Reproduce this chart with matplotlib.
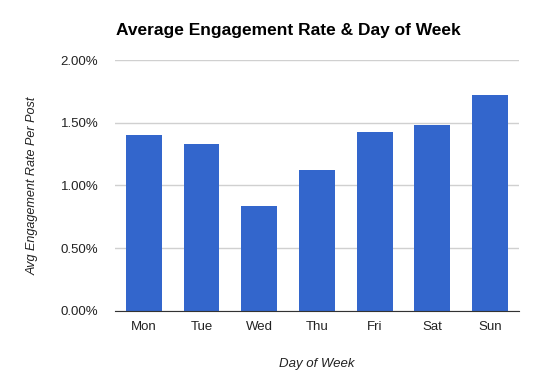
import matplotlib
matplotlib.use("Agg")
import matplotlib.pyplot as plt
from matplotlib.ticker import FuncFormatter

plt.rcParams['font.family'] = ['Liberation Sans', 'DejaVu Sans']

# DATA #
days = ['Mon', 'Tue', 'Wed', 'Thu', 'Fri', 'Sat', 'Sun']
engagement = [1.40, 1.33, 0.84, 1.12, 1.43, 1.48, 1.72]  # percent
yticks = [0.0, 0.5, 1.0, 1.5, 2.0]

# PLOT #
fig = plt.figure(figsize=(5.4, 3.8), dpi=100)
ax = fig.add_axes([0.213, 0.182, 0.748, 0.660])

ax.bar(days, engagement, width=0.62, color='#3366cc', zorder=3)

ax.set_ylim(0, 2.0)
ax.set_xlim(-0.5, len(days) - 0.5)
ax.set_yticks(yticks)
ax.yaxis.set_major_formatter(FuncFormatter(lambda v, p: '%.2f%%' % v))
ax.grid(axis='y', color='#d0d0d0', linewidth=1, zorder=0)

for side in ['top', 'right', 'left']:
    ax.spines[side].set_visible(False)
ax.spines['bottom'].set_color('#333333')
ax.spines['bottom'].set_zorder(4)

ax.tick_params(axis='both', length=0, labelsize=9.5, colors='#222222')
ax.tick_params(axis='y', pad=12)
ax.tick_params(axis='x', pad=7)

ax.set_xlabel('Day of Week', fontsize=9.5, style='italic', color='#222222', labelpad=18)
ax.set_ylabel('Avg Engagement Rate Per Post', fontsize=9.1, style='italic',
              color='#222222', labelpad=16)

fig.text(0.215, 0.92, 'Average Engagement Rate & Day of Week', fontsize=12.5,
         fontweight='bold', ha='left', va='center')

fig.savefig('out.png', dpi=100)
